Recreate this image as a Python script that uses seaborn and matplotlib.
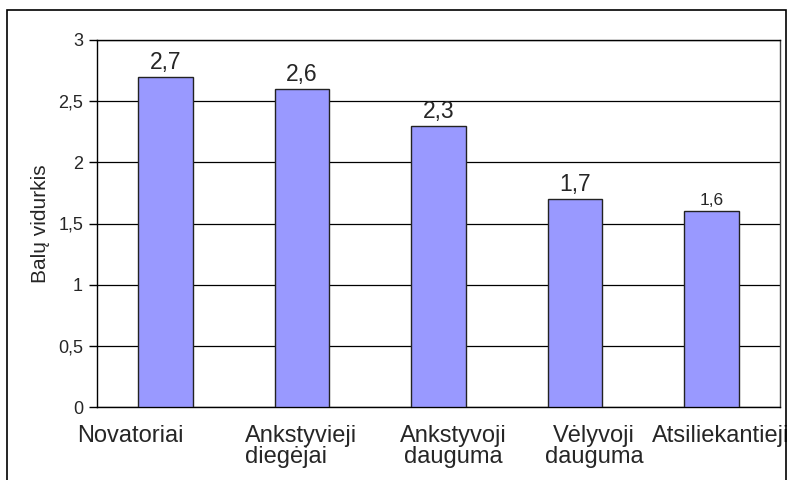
import matplotlib
matplotlib.use('Agg')
import matplotlib.pyplot as plt
import matplotlib.transforms as mtransforms
import seaborn as sns
import pandas as pd
from matplotlib.patches import Rectangle

categories = ['Novatoriai', 'Ankstyvieji\ndiegėjai', 'Ankstyvoji\ndauguma',
              'Vėlyvoji\ndauguma', 'Atsiliekantieji']
values = [2.7, 2.6, 2.3, 1.7, 1.6]
label_sizes = [16.5, 16.5, 16.5, 16.5, 12.5]
yticks = [0, 0.5, 1, 1.5, 2, 2.5, 3]

sns.set_style('white')
plt.rcParams['font.family'] = ['Liberation Sans', 'DejaVu Sans']

df = pd.DataFrame({'cat': categories, 'val': values})

fig = plt.figure(figsize=(7.89, 4.8), dpi=100)
ax = fig.add_axes([97 / 789, 1 - 407 / 480, 683 / 789, 367 / 480])

sns.barplot(data=df, x='cat', y='val', color='#9999FF', saturation=1,
            width=0.4, edgecolor='#222222', linewidth=1, ax=ax, zorder=3)

ax.set_ylim(0, 3)
ax.set_xlim(-0.5, len(categories) - 0.5)
ax.set_yticks(yticks)
ax.set_yticklabels([f'{t:g}'.replace('.', ',') for t in yticks], fontsize=13)
ax.yaxis.grid(True, color='black', linewidth=0.9, zorder=0)
ax.set_axisbelow(True)

# category labels, tick marks at category boundaries
ax.set_xticks(range(len(categories)))
ax.set_xticklabels(categories, fontsize=17, linespacing=0.95)
ax.tick_params(axis='x', which='major', length=0, pad=13)
label_shift = [-35, -1, 15, 19, 9]  # px, mimics the original label placement
for lbl, dx in zip(ax.get_xticklabels(), label_shift):
    lbl.set_transform(lbl.get_transform() +
                      mtransforms.ScaledTranslation(dx / 100, 0, fig.dpi_scale_trans))
ax.get_xticklabels()[1].set_multialignment('left')
ax.set_xticks([i - 0.5 for i in range(len(categories) + 1)], minor=True)
ax.tick_params(axis='x', which='minor', length=6, width=1, color='black', direction='out')
ax.tick_params(axis='y', length=6, width=1, color='black', direction='out', left=True, pad=4)

for s in ax.spines.values():
    s.set_visible(True)
    s.set_color('black')
    s.set_linewidth(1)
ax.spines['right'].set_color('#444444')

ax.set_xlabel('')
ax.set_ylabel('Balų vidurkis', fontsize=15, labelpad=6)

for bar, v, fs in zip(ax.patches, values, label_sizes):
    ax.annotate(f'{v:g}'.replace('.', ','),
                (bar.get_x() + bar.get_width() / 2, bar.get_height()),
                xytext=(0, 2), textcoords='offset points',
                ha='center', va='bottom', fontsize=fs)

# outer chart frame
fig.patches.append(Rectangle((7 / 789, -0.05), 779 / 789, 1.05 - 10 / 480,
                             transform=fig.transFigure, fill=False,
                             edgecolor='black', linewidth=1.2))

fig.savefig('out.png', dpi=100)
